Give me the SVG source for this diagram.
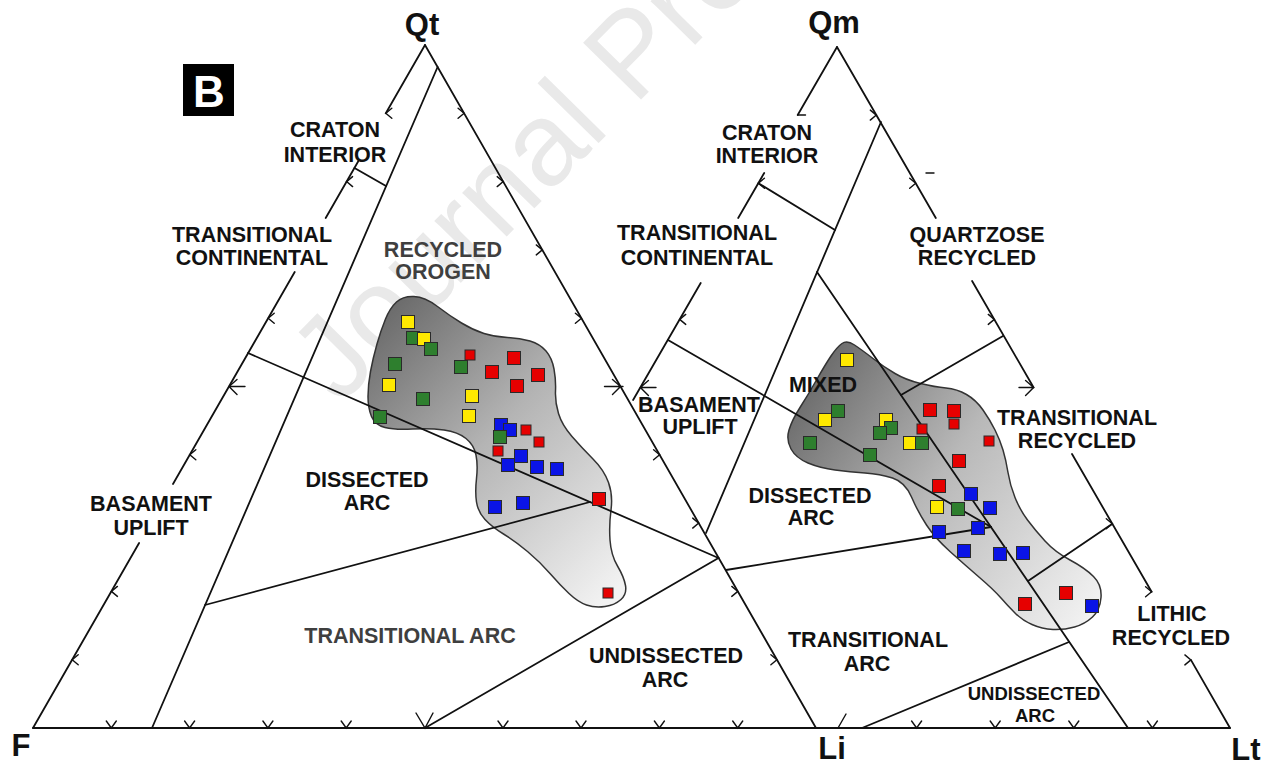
<svg xmlns="http://www.w3.org/2000/svg" width="1273" height="768" viewBox="0 0 1273 768">
<style>
.ln{fill:none;stroke:#111;stroke-width:1.8;stroke-linecap:round;stroke-linejoin:round}
.tk{fill:none;stroke:#111;stroke-width:1.4;stroke-linecap:round;stroke-linejoin:miter}
.t{font-family:"Liberation Sans",Arial,sans-serif;font-weight:bold;font-size:21.5px;fill:#111;text-anchor:middle}
.gt{fill:#3f3f3f}
.v{font-size:31px}
.sm{font-size:18.5px}
.cl{stroke:#333;stroke-width:1.5}
.sq rect{stroke:#2a2a2a;stroke-width:1}
.y{fill:#ffe900}.gr{fill:#2e7f2e}.r{fill:#e60000}.b{fill:#0a14e6}
.wm{font-family:"Liberation Sans",Arial,sans-serif;font-size:118px;fill:#e9e9e9}
</style>
<defs>
<linearGradient id="gl" gradientUnits="userSpaceOnUse" x1="370" y1="330" x2="625" y2="580">
<stop offset="0" stop-color="#6c6c6c"/><stop offset="0.45" stop-color="#b4b4b4"/><stop offset="1" stop-color="#f2f2f2"/>
</linearGradient>
<linearGradient id="gr" gradientUnits="userSpaceOnUse" x1="790" y1="400" x2="1095" y2="610">
<stop offset="0" stop-color="#6a6a6a"/><stop offset="0.45" stop-color="#b8b8b8"/><stop offset="1" stop-color="#f2f2f2"/>
</linearGradient>
</defs>
<rect width="1273" height="768" fill="#fff"/>
<text class="wm" transform="translate(340,406) rotate(-45.5)">Journal Pre-proof</text>

<g id="clouds">
<path id="cloud-left" class="cl" fill="url(#gl)" d="M396.5 302 Q403 296 414 296.5 Q425 297 437.5 306.5 Q450 316 461.5 323 Q473 330 484 333.5 Q495 337 507.5 337.5 Q520 338 530 341 Q540 344 546 351 Q552 358 554 369 Q556 380 555.5 391 Q555 402 558.5 413.5 Q562 425 572 436.5 Q582 448 593 459 Q604 470 608.5 482.5 Q613 495 611 510 Q609 525 610 540 Q611 555 617.5 566 Q624 577 625.5 585.5 Q627 594 621 599.5 Q615 605 605 606.5 Q595 608 586.5 605 Q578 602 569 593.5 Q560 585 550 573.5 Q540 562 527.5 551.5 Q515 541 503.5 534 Q492 527 485 519.5 Q478 512 476.5 502 Q475 492 476.5 478.5 Q478 465 476 455 Q474 445 466 438.5 Q458 432 444 430 Q430 428 412.5 429 Q395 430 385 427.5 Q375 425 371.5 416.5 Q368 408 368 396.5 Q368 385 370.5 371.5 Q373 358 377 344 Q381 330 385.5 319 Q390 308 396.5 302 Z"/>
<path id="cloud-right" class="cl" fill="url(#gr)" d="M842 343.5 Q847 340 854.5 345 Q862 350 873 358.5 Q884 367 895 373.5 Q906 380 920.5 383.5 Q935 387 946 388 Q957 389 966.5 394.5 Q976 400 983 410 Q990 420 995 430 Q1000 440 1003 450 Q1006 460 1008 472.5 Q1010 485 1015 497.5 Q1020 510 1027.5 520 Q1035 530 1045 541 Q1055 552 1070 560 Q1085 568 1093.5 576.5 Q1102 585 1101 597.5 Q1100 610 1092.5 617 Q1085 624 1074.5 627 Q1064 630 1053 629.5 Q1042 629 1032 624.5 Q1022 620 1015 613 Q1008 606 1001 598 Q994 590 979.5 577.5 Q965 565 950 551.5 Q935 538 926.5 525 Q918 512 911.5 497 Q905 482 892.5 478 Q880 474 865 473 Q850 472 835 470 Q820 468 808 463 Q796 458 791 449 Q786 440 789 430 Q792 420 800 407.5 Q808 395 816.5 380 Q825 365 831 356 Q837 347 842 343.5 Z"/>
</g>

<g id="connectors">
<path class="ln" d="M33 728 H1230"/>
<path class="ln" d="M425 45 L385.8 113.3 M359 160 L325.7 218 M294.7 272 L173 484 M139.1 543 L33 728"/>
<path class="ln" d="M425 45 L816 728"/>
<path class="ln" d="M437.6 67 L152 728"/>
<path class="ln" d="M354.5 168 L386 186"/>
<path class="ln" d="M248 353 L718.5 558"/>
<path class="ln" d="M205 605 L590 502"/>
<path class="ln" d="M425 728 L718.5 558"/>
<path class="ln" d="M837 47 L797.7 115 M764.2 173 L738.2 218 M700.7 283 L633.1 400"/>
<path class="ln" d="M837 47 L935.8 218 M972.1 281 L1033.6 387.5 M1072 454 L1151.6 591.8 M1190.9 659.9 L1230 728"/>
<path class="ln" d="M881 122 L706 533"/>
<path class="ln" d="M758.4 183.2 L835 230"/>
<path class="ln" d="M668 340 L991 527"/>
<path class="ln" d="M817 272 L1128 728"/>
<path class="ln" d="M1003 336 L901 395"/>
<path class="ln" d="M1112 524 L1028 581"/>
<path class="ln" d="M726 570 L991 527"/>
<path class="ln" d="M862 728 L1069 642"/>
</g>

<g id="ticks">
<path class="tk" d="M391.8 108.3 L385.8 113.3 L391.8 118.3 M352.6 176.6 L346.6 181.6 L352.6 186.6 M274.2 313.2 L268.2 318.2 L274.2 323.2 M237 379.5 L229 386.5 L237 394.5 M229 386.5 H245 M195.8 449.8 L189.8 454.8 L195.8 459.8 M117.4 586.4 L111.4 591.4 L117.4 596.4 M78.2 654.7 L72.2 659.7 L78.2 664.7"/>
<path class="tk" d="M458.1 108.3 L464.1 113.3 L458.1 118.3 M497.2 176.6 L503.2 181.6 L497.2 186.6 M536.3 244.9 L542.3 249.9 L536.3 254.9 M575.4 313.2 L581.4 318.2 L575.4 323.2 M612.5 379.5 L620.5 386.5 L612.5 394.5 M604.5 386.5 H623 M653.6 449.8 L659.6 454.8 L653.6 459.8 M692.7 518.1 L698.7 523.1 L692.7 528.1 M731.8 586.4 L737.8 591.4 L731.8 596.4 M770.9 654.7 L776.9 659.7 L770.9 664.7"/>
<path class="tk" d="M106.3 721 L111.3 728 L116.3 721 M184.6 721 L189.6 728 L194.6 721 M262.9 721 L267.9 728 L272.9 721 M341.2 721 L346.2 728 L351.2 721 M416 713 L425 728 L433 713 M498 721 L503 728 L508 721 M576 721 L581 728 L586 721 M654.4 721 L659.4 728 L664.4 721 M732.7 721 L737.7 728 L742.7 721"/>
<path class="tk" d="M797.7 115 H805.5 M764.4 178.2 L758.4 183.2 L764.4 188.2 M685.7 314.4 L679.7 319.4 L685.7 324.4 M648.4 380.5 L640.4 387.5 L648.4 395.5 M640.4 387.5 H656"/>
<path class="tk" d="M870.3 110.1 L876.3 115.1 L870.3 120.1 M909.7 178.2 L915.7 183.2 L909.7 188.2 M926 173 H934 M988.3 314.4 L994.3 319.4 L988.3 324.4 M1025.6 380.5 L1033.6 387.5 L1025.6 395.5 M1019 387.5 H1033.6 M1106.3 518.7 L1112.3 523.7 L1106.3 528.7 M1145.6 586.8 L1151.6 591.8 L1145.6 596.8 M1184.9 654.9 L1190.9 659.9 L1184.9 664.9"/>
<path class="tk" d="M838 728 L846 714 M911.6 721 L916.6 728 L921.6 721 M990.2 721 L995.2 728 L1000.2 721 M1068.8 721 L1073.8 728 L1078.8 721 M1147.4 721 L1152.4 728 L1157.4 721"/>
</g>

<g id="data-left" class="sq">
<rect class="y" x="401.5" y="315.5" width="13" height="13"/>
<rect class="gr" x="406.5" y="331.5" width="13" height="13"/>
<rect class="y" x="417.5" y="332.5" width="13" height="13"/>
<rect class="gr" x="424.5" y="342.5" width="13" height="13"/>
<rect class="gr" x="388.5" y="357.5" width="13" height="13"/>
<rect class="y" x="382.5" y="378.5" width="13" height="13"/>
<rect class="gr" x="416.5" y="392.5" width="13" height="13"/>
<rect class="gr" x="373.5" y="410.5" width="13" height="13"/>
<rect class="r" x="465" y="350" width="10" height="10"/>
<rect class="gr" x="454.5" y="360.5" width="13" height="13"/>
<rect class="r" x="507.5" y="351.5" width="13" height="13"/>
<rect class="r" x="485.5" y="365.5" width="13" height="13"/>
<rect class="r" x="531.5" y="368.5" width="13" height="13"/>
<rect class="r" x="510.5" y="379.5" width="13" height="13"/>
<rect class="y" x="465.5" y="389.5" width="13" height="13"/>
<rect class="y" x="462.5" y="409.5" width="13" height="13"/>
<rect class="b" x="494.5" y="418.5" width="13" height="13"/>
<rect class="b" x="503.5" y="423.5" width="13" height="13"/>
<rect class="r" x="521" y="425" width="10" height="10"/>
<rect class="gr" x="493.5" y="430.5" width="13" height="13"/>
<rect class="r" x="534" y="437" width="10" height="10"/>
<rect class="r" x="493" y="446" width="10" height="10"/>
<rect class="b" x="514.5" y="449.5" width="13" height="13"/>
<rect class="b" x="501.5" y="458.5" width="13" height="13"/>
<rect class="b" x="530.5" y="460.5" width="13" height="13"/>
<rect class="b" x="550.5" y="462.5" width="13" height="13"/>
<rect class="r" x="592.5" y="492.5" width="13" height="13"/>
<rect class="b" x="488.5" y="500.5" width="13" height="13"/>
<rect class="b" x="516.5" y="496.5" width="13" height="13"/>
<rect class="r" x="603" y="588" width="10" height="10"/>
</g>

<g id="data-right" class="sq">
<rect class="y" x="840.5" y="353.5" width="13" height="13"/>
<rect class="gr" x="831.5" y="404.5" width="13" height="13"/>
<rect class="y" x="818.5" y="413.5" width="13" height="13"/>
<rect class="gr" x="803.5" y="436.5" width="13" height="13"/>
<rect class="y" x="879.5" y="413.5" width="13" height="13"/>
<rect class="gr" x="884.5" y="421.5" width="13" height="13"/>
<rect class="gr" x="873.5" y="426.5" width="13" height="13"/>
<rect class="gr" x="863.5" y="448.5" width="13" height="13"/>
<rect class="r" x="923.5" y="403.5" width="13" height="13"/>
<rect class="r" x="947.5" y="404.5" width="13" height="13"/>
<rect class="r" x="949" y="419" width="10" height="10"/>
<rect class="r" x="917" y="424" width="10" height="10"/>
<rect class="y" x="903.5" y="436.5" width="13" height="13"/>
<rect class="gr" x="915.5" y="436.5" width="13" height="13"/>
<rect class="r" x="984" y="436" width="10" height="10"/>
<rect class="r" x="952.5" y="454.5" width="13" height="13"/>
<rect class="r" x="932.5" y="479.5" width="13" height="13"/>
<rect class="b" x="964.5" y="487.5" width="13" height="13"/>
<rect class="b" x="983.5" y="501.5" width="13" height="13"/>
<rect class="y" x="930.5" y="500.5" width="13" height="13"/>
<rect class="gr" x="951.5" y="502.5" width="13" height="13"/>
<rect class="b" x="932.5" y="525.5" width="13" height="13"/>
<rect class="b" x="971.5" y="521.5" width="13" height="13"/>
<rect class="b" x="957.5" y="544.5" width="13" height="13"/>
<rect class="b" x="993.5" y="547.5" width="13" height="13"/>
<rect class="b" x="1016.5" y="546.5" width="13" height="13"/>
<rect class="r" x="1018.5" y="597.5" width="13" height="13"/>
<rect class="r" x="1059.5" y="586.5" width="13" height="13"/>
<rect class="b" x="1085.5" y="599.5" width="13" height="13"/>
</g>

<g id="panel-label">
<rect x="183" y="64" width="51" height="52" fill="#000"/>
<text class="t" x="209" y="107" style="font-size:44px;fill:#fff">B</text>
</g>

<g id="vertex-labels">
<text class="t v" x="422" y="35">Qt</text>
<text class="t v" x="834" y="33">Qm</text>
<text class="t v" x="21" y="756">F</text>
<text class="t v" x="832" y="759">Li</text>
<text class="t v" x="1246" y="760">Lt</text>
</g>

<g id="field-labels-left">
<text class="t" x="335" y="137">CRATON</text>
<text class="t" x="335" y="162">INTERIOR</text>
<text class="t" x="252" y="242">TRANSITIONAL</text>
<text class="t" x="252" y="265">CONTINENTAL</text>
<text class="t gt" x="443" y="257">RECYCLED</text>
<text class="t gt" x="443" y="279">OROGEN</text>
<text class="t" x="367" y="487">DISSECTED</text>
<text class="t" x="367" y="510">ARC</text>
<text class="t" x="151" y="511">BASAMENT</text>
<text class="t" x="151" y="535">UPLIFT</text>
<text class="t gt" x="410" y="643">TRANSITIONAL ARC</text>
<text class="t" x="666" y="663">UNDISSECTED</text>
<text class="t" x="665" y="687">ARC</text>
</g>

<g id="field-labels-right">
<text class="t" x="767" y="140">CRATON</text>
<text class="t" x="767" y="163">INTERIOR</text>
<text class="t" x="697" y="240">TRANSITIONAL</text>
<text class="t" x="697" y="265">CONTINENTAL</text>
<text class="t" x="977" y="242">QUARTZOSE</text>
<text class="t" x="977" y="265">RECYCLED</text>
<text class="t" x="699" y="412">BASAMENT</text>
<text class="t" x="700" y="434">UPLIFT</text>
<text class="t" x="823" y="392">MIXED</text>
<text class="t" x="1077" y="425">TRANSITIONAL</text>
<text class="t" x="1077" y="448">RECYCLED</text>
<text class="t" x="810" y="503">DISSECTED</text>
<text class="t" x="811" y="525">ARC</text>
<text class="t" x="1172" y="621">LITHIC</text>
<text class="t" x="1171" y="645">RECYCLED</text>
<text class="t" x="868" y="647">TRANSITIONAL</text>
<text class="t" x="867" y="671">ARC</text>
<text class="t sm" x="1034" y="700">UNDISSECTED</text>
<text class="t sm" x="1035" y="722">ARC</text>
</g>
</svg>
